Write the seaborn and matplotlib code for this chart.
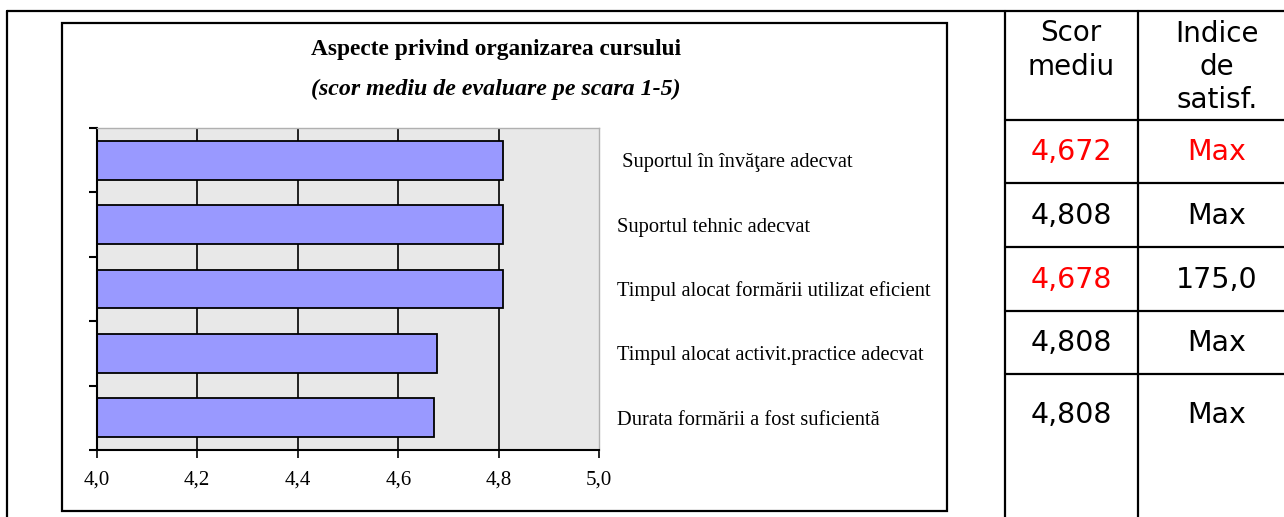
# Aspecte privind organizarea cursului - grafic cu bare + tabel alaturat
import matplotlib
matplotlib.use("Agg")
import matplotlib.pyplot as plt
import seaborn as sns
import pandas as pd
from matplotlib.lines import Line2D
from matplotlib.patches import Rectangle
from matplotlib.ticker import FixedLocator

categories = [
    " Suportul în învăţare adecvat",
    "Suportul tehnic adecvat",
    "Timpul alocat formării utilizat eficient",
    "Timpul alocat activit.practice adecvat",
    "Durata formării a fost suficientă",
]
scores = [4.808, 4.808, 4.808, 4.678, 4.672]
x_ticks = [4.0, 4.2, 4.4, 4.6, 4.8, 5.0]
x_tick_labels = ["4,0", "4,2", "4,4", "4,6", "4,8", "5,0"]

header_score = "Scor\nmediu"
header_index = "Indice\nde\nsatisf."
table_scores = ["4,672", "4,808", "4,678", "4,808", "4,808"]
table_index = ["Max", "Max", "175,0", "Max", "Max"]
score_red = [True, False, True, False, False]
index_red = [True, False, False, False, False]

W, H = 1284, 517


def fx(x):
    return x / W


def fy(y):
    return 1 - y / H


sns.set_style("white")
plt.rcParams["font.family"] = ["Liberation Serif", "DejaVu Serif"]
plt.rcParams["text.color"] = "black"
plt.rcParams["xtick.labelcolor"] = "black"
plt.rcParams["ytick.labelcolor"] = "black"

fig = plt.figure(figsize=(W / 100, H / 100), dpi=100)
fig.patch.set_facecolor("white")

# zona graficului (in pixeli: 96.7..599.3 pe x, 128..450 pe y)
ax = fig.add_axes([fx(96.7), fy(450), fx(599.3) - fx(96.7), (450 - 128) / H])
ax.set_facecolor("#e8e8e8")

df = pd.DataFrame({"aspect": categories, "scor": scores})
sns.barplot(data=df, x="scor", y="aspect", orient="h", color="#9999ff",
            saturation=1, edgecolor="black", linewidth=1.3, width=0.6, ax=ax)

ax.set_xlim(4, 5)
ax.set_xticks(x_ticks)
ax.set_xticklabels(x_tick_labels)
ax.set_xlabel("")
ax.set_ylabel("")
ax.set_axisbelow(True)
ax.grid(axis="x", color="black", linewidth=1.2)
ax.grid(axis="y", visible=False)
ax.get_xgridlines()[-1].set_visible(False)

ax.tick_params(axis="y", which="major", left=False, right=False,
               labelleft=False, labelright=True, pad=9.5, labelsize=14.8)
ax.yaxis.set_minor_locator(FixedLocator([i - 0.5 for i in range(len(categories) + 1)]))
ax.tick_params(axis="y", which="minor", left=True, length=6, width=1.5, color="black")
ax.tick_params(axis="x", bottom=True, length=6, width=1.2, color="black",
               pad=9, labelsize=15)

for s in ["left", "bottom"]:
    ax.spines[s].set_color("black")
    ax.spines[s].set_linewidth(1.5)
for s in ["top", "right"]:
    ax.spines[s].set_color("#b0b0b0")
    ax.spines[s].set_linewidth(1.0)

# titlu
fig.text(fx(496), fy(49), "Aspecte privind organizarea cursului", ha="center",
         va="center", fontsize=16.8, fontweight="bold")
fig.text(fx(496), fy(89), "(scor mediu de evaluare pe scara 1-5)", ha="center",
         va="center", fontsize=17.2, fontweight="bold", fontstyle="italic")

# chenarul graficului
fig.add_artist(Rectangle((fx(62), fy(511)), fx(947) - fx(62), (511 - 23) / H,
                         fill=False, edgecolor="black", linewidth=1.6,
                         transform=fig.transFigure))

# liniile tabelului
def hline(y, x0, x1):
    fig.add_artist(Line2D([fx(x0), fx(x1)], [fy(y), fy(y)], color="black",
                          linewidth=1.6, transform=fig.transFigure))


def vline(x, y0, y1):
    fig.add_artist(Line2D([fx(x), fx(x)], [fy(y0), fy(y1)], color="black",
                          linewidth=1.6, transform=fig.transFigure))


hline(11, 7, W)
vline(7, 11, H)
vline(1005, 11, H)
vline(1138, 11, H)
row_lines = [120, 183, 247, 311, 374]
for y in row_lines:
    hline(y, 1005, W)

col1, col2 = 1071, 1217
tfont = ["DejaVu Sans"]
fig.text(fx(col1), fy(50), header_score, ha="center", va="center", fontsize=20,
         family=tfont, linespacing=1.25)
fig.text(fx(col2), fy(67), header_index, ha="center", va="center", fontsize=20,
         family=tfont, linespacing=1.25)

row_y = [152, 216, 280, 343, 415]
for i in range(len(table_scores)):
    fig.text(fx(col1), fy(row_y[i]), table_scores[i], ha="center", va="center",
             fontsize=20.5, family=tfont, color="red" if score_red[i] else "black")
    fig.text(fx(col2), fy(row_y[i]), table_index[i], ha="center", va="center",
             fontsize=20.5, family=tfont, color="red" if index_red[i] else "black")

fig.savefig("out.png", dpi=100)
